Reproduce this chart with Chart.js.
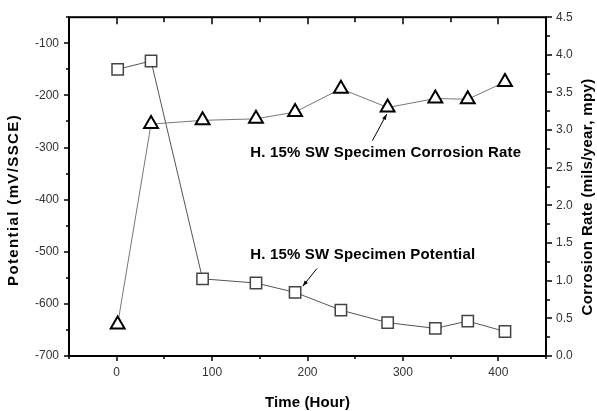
<!DOCTYPE html>
<html>
<head>
<meta charset="utf-8">
<script src="https://cdn.jsdelivr.net/npm/chart.js@4.4.1/dist/chart.umd.min.js"></script>
<style>
  body { margin: 0; background: #fff; }
  canvas { display: block; }
</style>
</head>
<body>
<canvas id="chart" width="597" height="411"></canvas>
<script>
// data
var hours = [1, 36, 90, 146, 187, 235, 284, 334, 368, 407];
var potential = [-150, -134, -552, -560, -578, -612, -636, -647, -633, -653];   // mV/SSCE, squares
var corrRate = [0.42, 3.08, 3.13, 3.15, 3.24, 3.55, 3.30, 3.42, 3.41, 3.64];    // mpy, triangles

var xTicks = [0, 100, 200, 300, 400];
var potTicks = [-700, -600, -500, -400, -300, -200, -100];
var rateTicks = [0, 0.5, 1, 1.5, 2, 2.5, 3, 3.5, 4, 4.5];

// annotation text + arrow (data coords on x / left axis)
var labelRate = { text: 'H. 15% SW Specimen Corrosion Rate', x: 140, y: -311, from: [268, -287], to: [283, -236], w: 271 };
var labelPot = { text: 'H. 15% SW Specimen Potential', x: 140, y: -505, from: [210, -532], to: [195, -566], w: 225 };

var tickFont = { family: 'Arial, "Liberation Sans", sans-serif', size: 12 };
var boldFont = 'bold 15px Arial, "Liberation Sans", sans-serif';

function arrow(ctx, x1, y1, x2, y2) {
  ctx.beginPath();
  ctx.moveTo(x1, y1);
  ctx.lineTo(x2, y2);
  ctx.stroke();
  var a = Math.atan2(y2 - y1, x2 - x1);
  ctx.beginPath();
  ctx.moveTo(x2, y2);
  ctx.lineTo(x2 - 6 * Math.cos(a - 0.35), y2 - 6 * Math.sin(a - 0.35));
  ctx.lineTo(x2 - 6 * Math.cos(a + 0.35), y2 - 6 * Math.sin(a + 0.35));
  ctx.closePath();
  ctx.fill();
}

// draw text spread out a bit to match the wide lettering of the original
function wideText(ctx, text, x, y, width) {
  ctx.letterSpacing = '0px';
  var w = ctx.measureText(text).width;
  ctx.letterSpacing = Math.max(0, (width - w) / text.length) + 'px';
  ctx.fillText(text, x, y);
  ctx.letterSpacing = '0px';
}

var decor = {
  id: 'decor',
  afterDraw: function(chart) {
    var ctx = chart.ctx, a = chart.chartArea;
    var x = chart.scales.x, y = chart.scales.y, y2 = chart.scales.y2;
    ctx.save();
    ctx.strokeStyle = '#000';
    ctx.fillStyle = '#000';
    // frame
    ctx.lineWidth = 2;
    ctx.strokeRect(a.left, a.top, a.right - a.left, a.bottom - a.top);
    // ticks
    ctx.lineWidth = 1.5;
    ctx.beginPath();
    for (var v = -50; v <= 450; v += 50) {
      var px = Math.round(x.getPixelForValue(v));
      var major = v % 100 === 0;
      ctx.moveTo(px, a.bottom); ctx.lineTo(px, a.bottom + (major ? 5 : 3));
      ctx.moveTo(px, a.top); ctx.lineTo(px, a.top + (major ? 7 : 5));
    }
    for (var p = -700; p <= -50; p += 50) {
      var py = Math.round(y.getPixelForValue(p));
      ctx.moveTo(a.left, py); ctx.lineTo(a.left - (p % 100 === 0 ? 5 : 3), py);
    }
    for (var k = 0; k <= 18; k++) {
      var ry = Math.round(y2.getPixelForValue(k * 0.25));
      ctx.moveTo(a.right, ry); ctx.lineTo(a.right + (k % 2 === 0 ? 6 : 4), ry);
    }
    ctx.stroke();

    // axis titles
    ctx.font = boldFont;
    ctx.textAlign = 'center';
    ctx.textBaseline = 'middle';
    wideText(ctx, 'Time (Hour)', (a.left + a.right) / 2, 403, 85);
    ctx.save();
    ctx.translate(14, 200);
    ctx.rotate(-Math.PI / 2);
    wideText(ctx, 'Potential (mV/SSCE)', 0, 0, 172);
    ctx.restore();
    ctx.save();
    ctx.translate(588, 197);
    ctx.rotate(-Math.PI / 2);
    wideText(ctx, 'Corrosion Rate (mils/year, mpy)', 0, 0, 237);
    ctx.restore();

    // annotations
    ctx.textAlign = 'left';
    [labelRate, labelPot].forEach(function(l) {
      wideText(ctx, l.text, x.getPixelForValue(l.x), y.getPixelForValue(l.y), l.w);
      ctx.lineWidth = 1;
      arrow(ctx, x.getPixelForValue(l.from[0]), y.getPixelForValue(l.from[1]),
        x.getPixelForValue(l.to[0]), y.getPixelForValue(l.to[1]));
    });
    ctx.restore();
  }
};

new Chart(document.getElementById('chart'), {
  type: 'line',
  data: {
    datasets: [{
      label: 'Corrosion Rate',
      data: hours.map(function(h, i) { return { x: h, y: corrRate[i] }; }),
      yAxisID: 'y2',
      borderColor: '#777',
      borderWidth: 1,
      pointStyle: 'triangle',
      pointRadius: 8,
      pointBorderWidth: 2,
      pointBorderColor: '#000',
      pointBackgroundColor: '#fff',
      tension: 0
    }, {
      label: 'Potential',
      data: hours.map(function(h, i) { return { x: h, y: potential[i] }; }),
      yAxisID: 'y',
      borderColor: '#555',
      borderWidth: 1,
      pointStyle: 'rect',
      pointRadius: 8,
      pointBorderWidth: 1.5,
      pointBorderColor: '#444',
      pointBackgroundColor: '#fff',
      tension: 0
    }]
  },
  options: {
    responsive: false,
    animation: false,
    layout: { padding: { top: 16, left: 0, right: 0, bottom: 0 } },
    plugins: { legend: { display: false }, tooltip: { enabled: false } },
    scales: {
      x: {
        type: 'linear', position: 'bottom', min: -50, max: 450,
        grid: { display: false, drawTicks: false },
        border: { display: false },
        ticks: { font: tickFont, color: '#333', padding: 9 },
        afterBuildTicks: function(s) { s.ticks = xTicks.map(function(v) { return { value: v }; }); },
        afterFit: function(s) { s.height = 55; }
      },
      y: {
        position: 'left', min: -700, max: -50,
        grid: { display: false, drawTicks: false },
        border: { display: false },
        ticks: { font: tickFont, color: '#333', padding: 10 },
        afterBuildTicks: function(s) { s.ticks = potTicks.map(function(v) { return { value: v }; }); },
        afterFit: function(s) { s.width = 69; }
      },
      y2: {
        position: 'right', min: 0, max: 4.5,
        grid: { display: false, drawTicks: false },
        border: { display: false },
        ticks: { font: tickFont, color: '#333', padding: 10, callback: function(v) { return v.toFixed(1); } },
        afterBuildTicks: function(s) { s.ticks = rateTicks.map(function(v) { return { value: v }; }); },
        afterFit: function(s) { s.width = 51; }
      }
    }
  },
  plugins: [decor]
});
</script>
</body>
</html>
